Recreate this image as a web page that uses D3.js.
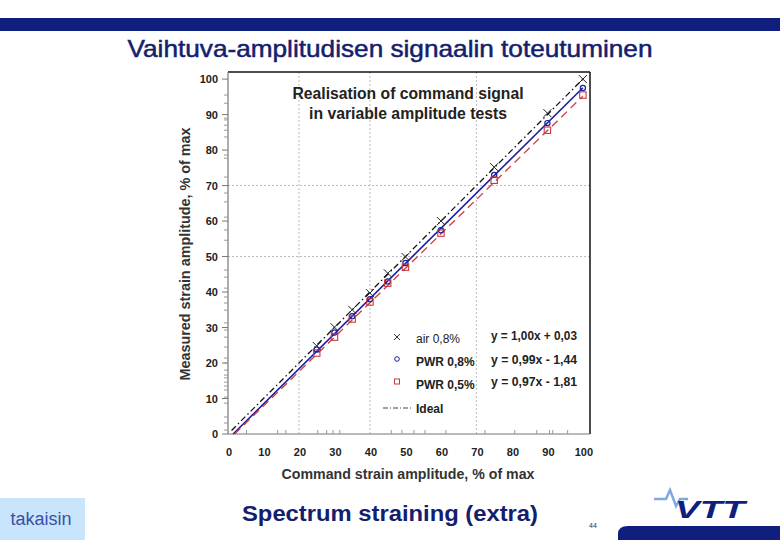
<!DOCTYPE html>
<html>
<head>
<meta charset="utf-8">
<script src="https://cdn.jsdelivr.net/npm/d3@7"></script>
<style>
  html, body { margin: 0; padding: 0; background: #fff; }
  svg { display: block; font-family: "Liberation Sans", Arial, sans-serif; }
</style>
</head>
<body>
<div id="chart"></div>
<script>
// command amplitude (% of max) and measured amplitudes per test series
const command = [25, 30, 35, 40, 45, 50, 60, 75, 90, 100];
const air08   = [24.8, 30.1, 35.0, 39.7, 45.3, 49.9, 60.0, 75.2, 90.4, 100.0];
const pwr08   = [23.8, 28.6, 33.2, 38.0, 43.0, 48.2, 57.4, 73.0, 87.6, 97.5];
const pwr05   = [22.8, 27.3, 32.4, 37.2, 42.5, 47.0, 56.6, 71.5, 85.6, 95.5];

const seriesNames = ['air 0,8%', 'PWR 0,8%', 'PWR 0,5%'];
const equations = ['y = 1,00x + 0,03', 'y = 0,99x - 1,44', 'y = 0,97x - 1,81'];
// regression fits (slope, intercept) as printed on the chart
const fitSlope = [1.00, 0.99, 0.97];
const fitIntercept = [0.03, -1.44, -1.81];

const ticks = [0, 10, 20, 30, 40, 50, 60, 70, 80, 90, 100];
const xGrid = [20, 40, 70];
const yGrid = [50, 70];
// small rug ticks along the axes
const xRug = [5.2, 14, 16.3, 25.3, 27.8, 29.6, 31.5, 46, 49, 52.4, 55.5, 61.4, 72.4, 80.8, 87, 90.6, 91.5, 95.7];
const yRug = [95.5, 93.2, 89, 88.5, 87, 85.6, 83.7, 78.6, 77.7, 72.4, 67.9, 65.4, 61.1, 57.5, 54.6, 46.2, 44.2,
              41.1, 38.6, 36.9, 34.9, 31.3, 29.3, 27.3, 24.5, 21.4, 20, 18, 16.6, 15.8, 14.6, 13.5, 12.4, 10.4, 8.7, 4.8, 3.1, 1.1];

const W = 780, H = 540;
const NAVY = '#101f7e';

const svg = d3.select('#chart').append('svg')
  .attr('width', W).attr('height', H);

// slide frame
svg.append('rect').attr('x', 0).attr('y', 18).attr('width', W).attr('height', 13).attr('fill', NAVY);
svg.append('text').text('Vaihtuva-amplitudisen signaalin toteutuminen')
  .attr('x', 390).attr('y', 57).attr('text-anchor', 'middle')
  .attr('font-size', 24).attr('fill', '#14206e').attr('stroke', '#14206e').attr('stroke-width', 0.5)
  .attr('textLength', 525).attr('lengthAdjust', 'spacingAndGlyphs');

// plot
const x = d3.scaleLinear().domain([0, 102]).range([228, 590]);
const y = d3.scaleLinear().domain([0, 102]).range([434, 72]);

const g = svg.append('g');

g.selectAll('.xg').data(xGrid).join('line')
  .attr('x1', d => x(d)).attr('x2', d => x(d)).attr('y1', y(0)).attr('y2', y(102))
  .attr('stroke', '#bbb').attr('stroke-width', 1).attr('stroke-dasharray', '2,2');
g.selectAll('.yg').data(yGrid).join('line')
  .attr('x1', x(0)).attr('x2', x(102)).attr('y1', d => y(d)).attr('y2', d => y(d))
  .attr('stroke', '#bbb').attr('stroke-width', 1).attr('stroke-dasharray', '2,2');

// frame
g.append('line').attr('x1', x(0)).attr('x2', x(102)).attr('y1', y(102)).attr('y2', y(102)).attr('stroke', '#111').attr('stroke-width', 1.5);
g.append('line').attr('x1', x(102)).attr('x2', x(102)).attr('y1', y(102)).attr('y2', y(0)).attr('stroke', '#111').attr('stroke-width', 1.5);
g.append('line').attr('x1', x(0)).attr('x2', x(0)).attr('y1', y(102)).attr('y2', y(0)).attr('stroke', '#777').attr('stroke-width', 1.2);
g.append('line').attr('x1', x(0)).attr('x2', x(102)).attr('y1', y(0)).attr('y2', y(0)).attr('stroke', '#777').attr('stroke-width', 1.2);

// ticks
g.selectAll('.yt').data(ticks).join('line')
  .attr('x1', x(0) - 6).attr('x2', x(0)).attr('y1', d => y(d)).attr('y2', d => y(d))
  .attr('stroke', '#777');
g.selectAll('.yr').data(yRug).join('line')
  .attr('x1', x(0) - 4).attr('x2', x(0)).attr('y1', d => y(d)).attr('y2', d => y(d))
  .attr('stroke', '#999');
g.selectAll('.xr').data(xRug).join('line')
  .attr('x1', d => x(d)).attr('x2', d => x(d)).attr('y1', y(0)).attr('y2', y(0) - 4)
  .attr('stroke', '#999');

g.selectAll('.yl').data(ticks).join('text').text(d => d)
  .attr('x', 218).attr('y', d => y(d) + 4).attr('text-anchor', 'end')
  .attr('font-size', 11).attr('font-weight', 'bold').attr('fill', '#222');
g.selectAll('.xl').data(ticks).join('text').text(d => d)
  .attr('x', d => x(d) + 1).attr('y', 456).attr('text-anchor', 'middle')
  .attr('font-size', 11).attr('font-weight', 'bold').attr('fill', '#222');

g.append('text').text('Command strain amplitude, % of max')
  .attr('x', 408).attr('y', 479).attr('text-anchor', 'middle')
  .attr('font-size', 14).attr('font-weight', 'bold').attr('fill', '#333')
  .attr('textLength', 253).attr('lengthAdjust', 'spacingAndGlyphs');
g.append('text').text('Measured strain amplitude, % of max')
  .attr('transform', 'translate(190,254) rotate(-90)').attr('text-anchor', 'middle')
  .attr('font-size', 14).attr('font-weight', 'bold').attr('fill', '#333')
  .attr('textLength', 253).attr('lengthAdjust', 'spacingAndGlyphs');

g.append('text').text('Realisation of command signal')
  .attr('x', 408).attr('y', 99).attr('text-anchor', 'middle')
  .attr('font-size', 16).attr('font-weight', 'bold').attr('fill', '#222')
  .attr('textLength', 231).attr('lengthAdjust', 'spacingAndGlyphs');
g.append('text').text('in variable amplitude tests')
  .attr('x', 408).attr('y', 119).attr('text-anchor', 'middle')
  .attr('font-size', 16).attr('font-weight', 'bold').attr('fill', '#222')
  .attr('textLength', 198).attr('lengthAdjust', 'spacingAndGlyphs');

// fit lines and ideal
const line = d3.line().x(d => x(d[0])).y(d => y(d[1]));
const fitColors = ['#222', '#1b1fa0', '#d03c3c'];
g.append('path').attr('d', line([[1, 1], [100, 100]]))
  .attr('fill', 'none').attr('stroke', '#111').attr('stroke-width', 1.3).attr('stroke-dasharray', '6,3,1.5,3');
[1, 2].forEach(i => {
  const x0 = Math.max(0, -fitIntercept[i] / fitSlope[i]);
  g.append('path').attr('d', line([[x0, fitSlope[i] * x0 + fitIntercept[i]], [100, fitSlope[i] * 100 + fitIntercept[i]]]))
    .attr('fill', 'none').attr('stroke', fitColors[i])
    .attr('stroke-width', i === 1 ? 1.6 : 1.3)
    .attr('stroke-dasharray', i === 2 ? '8,5' : null);
});

// markers
function cross(sel, cx, cy, r, color) {
  sel.append('path').attr('d', `M${cx - r},${cy - r}L${cx + r},${cy + r}M${cx - r},${cy + r}L${cx + r},${cy - r}`)
    .attr('stroke', color).attr('stroke-width', 1).attr('fill', 'none');
}
command.forEach((c, i) => cross(g, x(c), y(air08[i]), 4, '#222'));
g.selectAll('.p08').data(command).join('circle')
  .attr('cx', d => x(d)).attr('cy', (d, i) => y(pwr08[i])).attr('r', 2.6)
  .attr('fill', 'none').attr('stroke', '#1b1fa0').attr('stroke-width', 1.2);
g.selectAll('.p05').data(command).join('rect')
  .attr('x', d => x(d) - 3.2).attr('y', (d, i) => y(pwr05[i]) - 3.2).attr('width', 6.4).attr('height', 6.4)
  .attr('fill', 'none').attr('stroke', '#c83a3a').attr('stroke-width', 1.1);

// legend
const lg = g.append('g');
const ly = [339, 362, 385];
const eqY = [336, 360, 382];
cross(lg, 397, ly[0] - 2, 3, '#333');
lg.append('circle').attr('cx', 397).attr('cy', ly[1] - 3).attr('r', 2.3).attr('fill', 'none').attr('stroke', '#1b1fa0');
lg.append('rect').attr('x', 394.5).attr('y', ly[2] - 6).attr('width', 5).attr('height', 5).attr('fill', 'none').attr('stroke', '#c83a3a');
seriesNames.forEach((s, i) => {
  lg.append('text').text(s).attr('x', 416).attr('y', ly[i] + 4)
    .attr('font-size', 12).attr('font-weight', i ? 'bold' : 'normal').attr('fill', '#222');
  lg.append('text').text(equations[i]).attr('x', 577).attr('y', eqY[i] + 4).attr('text-anchor', 'end')
    .attr('font-size', 12).attr('font-weight', 'bold').attr('fill', '#222')
    .attr('textLength', 86).attr('lengthAdjust', 'spacingAndGlyphs');
});
lg.append('line').attr('x1', 383).attr('x2', 413).attr('y1', 408).attr('y2', 408)
  .attr('stroke', '#444').attr('stroke-dasharray', '5,2,1,2');
lg.append('text').text('Ideal').attr('x', 416).attr('y', 413)
  .attr('font-size', 12).attr('font-weight', 'bold').attr('fill', '#222');

// footer
svg.append('rect').attr('x', 0).attr('y', 498).attr('width', 85).attr('height', 42).attr('fill', '#c9e5fb');
svg.append('text').text('takaisin').attr('x', 41).attr('y', 525).attr('text-anchor', 'middle')
  .attr('font-size', 18).attr('fill', '#3a4fa8');
svg.append('text').text('Spectrum straining (extra)').attr('x', 390).attr('y', 521).attr('text-anchor', 'middle')
  .attr('font-size', 22).attr('font-weight', 'bold').attr('fill', '#14206e')
  .attr('textLength', 296).attr('lengthAdjust', 'spacingAndGlyphs');
svg.append('text').text('44').attr('x', 593).attr('y', 528).attr('text-anchor', 'middle')
  .attr('font-size', 7).attr('fill', '#333');

// VTT logo
svg.append('path').attr('d', 'M618,540 L618,534 Q618,526 628,526 L780,526 L780,540 Z').attr('fill', NAVY);
svg.append('path').attr('d', 'M654,499 L666,499 L670,490 L676,506 L680,499 L688,499')
  .attr('fill', 'none').attr('stroke', '#7fa9e0').attr('stroke-width', 2.5);
svg.append('text').text('VTT').attr('x', 710).attr('y', 518).attr('text-anchor', 'middle')
  .attr('font-size', 24).attr('font-weight', 'bold').attr('font-style', 'italic').attr('fill', NAVY)
  .attr('textLength', 70).attr('lengthAdjust', 'spacingAndGlyphs');
</script>
</body>
</html>
